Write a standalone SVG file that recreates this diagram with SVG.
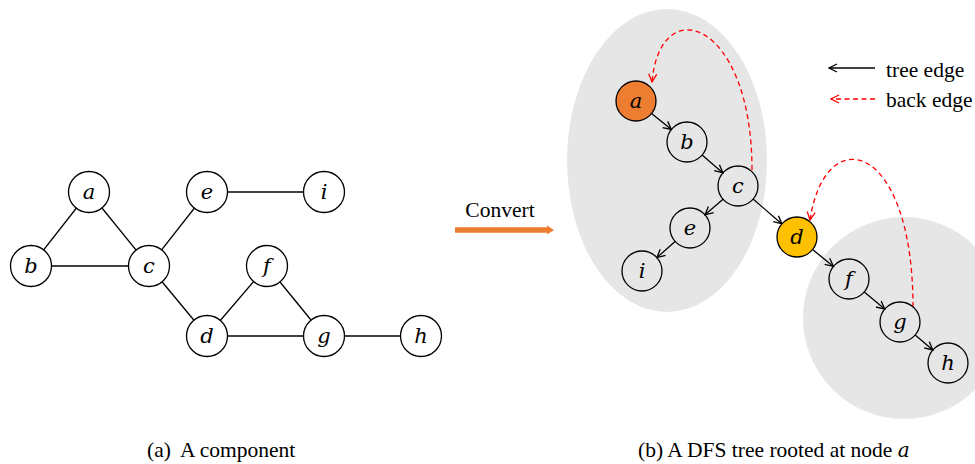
<svg xmlns="http://www.w3.org/2000/svg" width="975" height="464" viewBox="0 0 975 464">
  <style>
    .node { fill: #ffffff; stroke: #000000; stroke-width: 1.3; }
    .node-clear { fill: none; stroke: #000000; stroke-width: 1.3; }
    .lbl { font-family: "DejaVu Serif", "Liberation Serif", serif; font-style: italic; font-size: 21px; text-anchor: middle; dominant-baseline: central; fill: #000; }
    .edge { stroke: #000; stroke-width: 1.3; fill: none; }
    .tree { stroke: #000; stroke-width: 1.3; fill: none; marker-end: url(#open-black); }
    .back { stroke: #ff0000; stroke-width: 1.3; fill: none; stroke-dasharray: 5 3.5; marker-end: url(#open-red); }
    .txt { font-family: "Liberation Serif", "Times New Roman", serif; font-size: 21.5px; fill: #000; }
    .shade { fill: #e6e6e6; }
  </style>
  <defs>
    <marker id="open-black" viewBox="0 0 10 10" refX="9" refY="5" markerWidth="10" markerHeight="10" markerUnits="userSpaceOnUse" orient="auto">
      <path d="M1,1 L9,5 L1,9" fill="none" stroke="#000" stroke-width="1.3"/>
    </marker>
    <marker id="open-red" viewBox="0 0 10 10" refX="9" refY="5" markerWidth="10" markerHeight="10" markerUnits="userSpaceOnUse" orient="auto">
      <path d="M1,1 L9,5 L1,9" fill="none" stroke="#ff0000" stroke-width="1.3"/>
    </marker>
  </defs>

  <!-- (a) undirected component -->
  <g id="component-edges">
    <line class="edge" x1="89" y1="192" x2="31" y2="266"/>
    <line class="edge" x1="89" y1="192" x2="149" y2="266"/>
    <line class="edge" x1="31" y1="266" x2="149" y2="266"/>
    <line class="edge" x1="149" y1="266" x2="207" y2="192"/>
    <line class="edge" x1="207" y1="192" x2="324" y2="192"/>
    <line class="edge" x1="149" y1="266" x2="207" y2="336"/>
    <line class="edge" x1="207" y1="336" x2="267" y2="266"/>
    <line class="edge" x1="267" y1="266" x2="324" y2="336"/>
    <line class="edge" x1="207" y1="336" x2="324" y2="336"/>
    <line class="edge" x1="324" y1="336" x2="421" y2="336"/>
  </g>
  <g id="ca"><circle class="node" cx="89" cy="192" r="20.5"/><text class="lbl" x="89" y="192">a</text></g>
  <g id="cb"><circle class="node" cx="31" cy="266" r="20.5"/><text class="lbl" x="31" y="266">b</text></g>
  <g id="cc"><circle class="node" cx="149" cy="266" r="20.5"/><text class="lbl" x="149" y="266">c</text></g>
  <g id="ce"><circle class="node" cx="207" cy="192" r="20.5"/><text class="lbl" x="207" y="192">e</text></g>
  <g id="ci"><circle class="node" cx="324" cy="192" r="20.5"/><text class="lbl" x="324" y="192">i</text></g>
  <g id="cf"><circle class="node" cx="267" cy="266" r="20.5"/><text class="lbl" x="267" y="266">f</text></g>
  <g id="cd"><circle class="node" cx="207" cy="336" r="20.5"/><text class="lbl" x="207" y="336">d</text></g>
  <g id="cg"><circle class="node" cx="324" cy="336" r="20.5"/><text class="lbl" x="324" y="336">g</text></g>
  <g id="ch"><circle class="node" cx="421" cy="336" r="20.5"/><text class="lbl" x="421" y="336">h</text></g>

  <!-- convert arrow -->
  <g id="convert">
    <text class="txt" x="500" y="217" text-anchor="middle">Convert</text>
    <line x1="455" y1="230" x2="548" y2="230" stroke="#ed7d31" stroke-width="5.5"/>
    <path d="M547,225.5 L554,230 L547,234.5 Z" fill="#ed7d31"/>
  </g>

  <!-- (b) DFS tree: shaded subtrees -->
  <ellipse class="shade" cx="667" cy="160.5" rx="100" ry="151.5"/>
  <circle class="shade" cx="904" cy="318" r="101"/>

  <g id="tree-edges">
    <line class="tree" x1="651.6" y1="113.5" x2="671.4" y2="129.5"/>
    <line class="tree" x1="702.1" y1="155.1" x2="722.9" y2="172.9"/>
    <line class="tree" x1="723" y1="199.2" x2="705" y2="214.8"/>
    <line class="tree" x1="675.1" y1="241.4" x2="656.9" y2="257.6"/>
    <line class="tree" x1="753.1" y1="199.1" x2="781.9" y2="223.9"/>
    <line class="tree" x1="812.6" y1="249.6" x2="833.4" y2="266.4"/>
    <line class="tree" x1="864.3" y1="291.9" x2="884.7" y2="309.1"/>
    <line class="tree" x1="915.2" y1="335" x2="932.8" y2="350"/>
    <path class="back" d="M752,170 C752,20 660,-10 652,82"/>
    <path class="back" d="M913,307 C913,140 825,120 810,220"/>
  </g>

  <g id="ta"><circle cx="636" cy="101" r="20" fill="#ed7d31" stroke="#000" stroke-width="1.3"/><text class="lbl" x="636" y="101">a</text></g>
  <g id="tb"><circle class="node-clear" cx="687" cy="142" r="20"/><text class="lbl" x="687" y="142">b</text></g>
  <g id="tc"><circle class="node-clear" cx="738" cy="186" r="20"/><text class="lbl" x="738" y="186">c</text></g>
  <g id="te"><circle class="node-clear" cx="690" cy="228" r="20"/><text class="lbl" x="690" y="228">e</text></g>
  <g id="ti"><circle class="node-clear" cx="642" cy="271" r="20"/><text class="lbl" x="642" y="271">i</text></g>
  <g id="td"><circle cx="797" cy="237" r="20" fill="#ffc000" stroke="#000" stroke-width="1.3"/><text class="lbl" x="797" y="237">d</text></g>
  <g id="tf"><circle class="node-clear" cx="849" cy="279" r="20"/><text class="lbl" x="849" y="279">f</text></g>
  <g id="tg"><circle class="node-clear" cx="900" cy="322" r="20"/><text class="lbl" x="900" y="322">g</text></g>
  <g id="th"><circle class="node-clear" cx="948" cy="363" r="20"/><text class="lbl" x="948" y="363">h</text></g>

  <!-- legend -->
  <g id="legend">
    <line class="tree" x1="875" y1="68" x2="829" y2="68"/>
    <text class="txt" x="886" y="77">tree edge</text>
    <line x1="875" y1="99" x2="831" y2="99" stroke="#ff0000" stroke-width="1.3" stroke-dasharray="5 3.5" marker-end="url(#open-red)"/>
    <text class="txt" x="886" y="107">back edge</text>
  </g>

  <!-- captions -->
  <text class="txt" x="147" y="457">(a)<tspan x="180">A component</tspan></text>
  <text class="txt" x="638" y="457">(b) A DFS tree rooted at node <tspan font-family="DejaVu Serif, serif" font-style="italic" font-size="20">a</tspan></text>
</svg>
